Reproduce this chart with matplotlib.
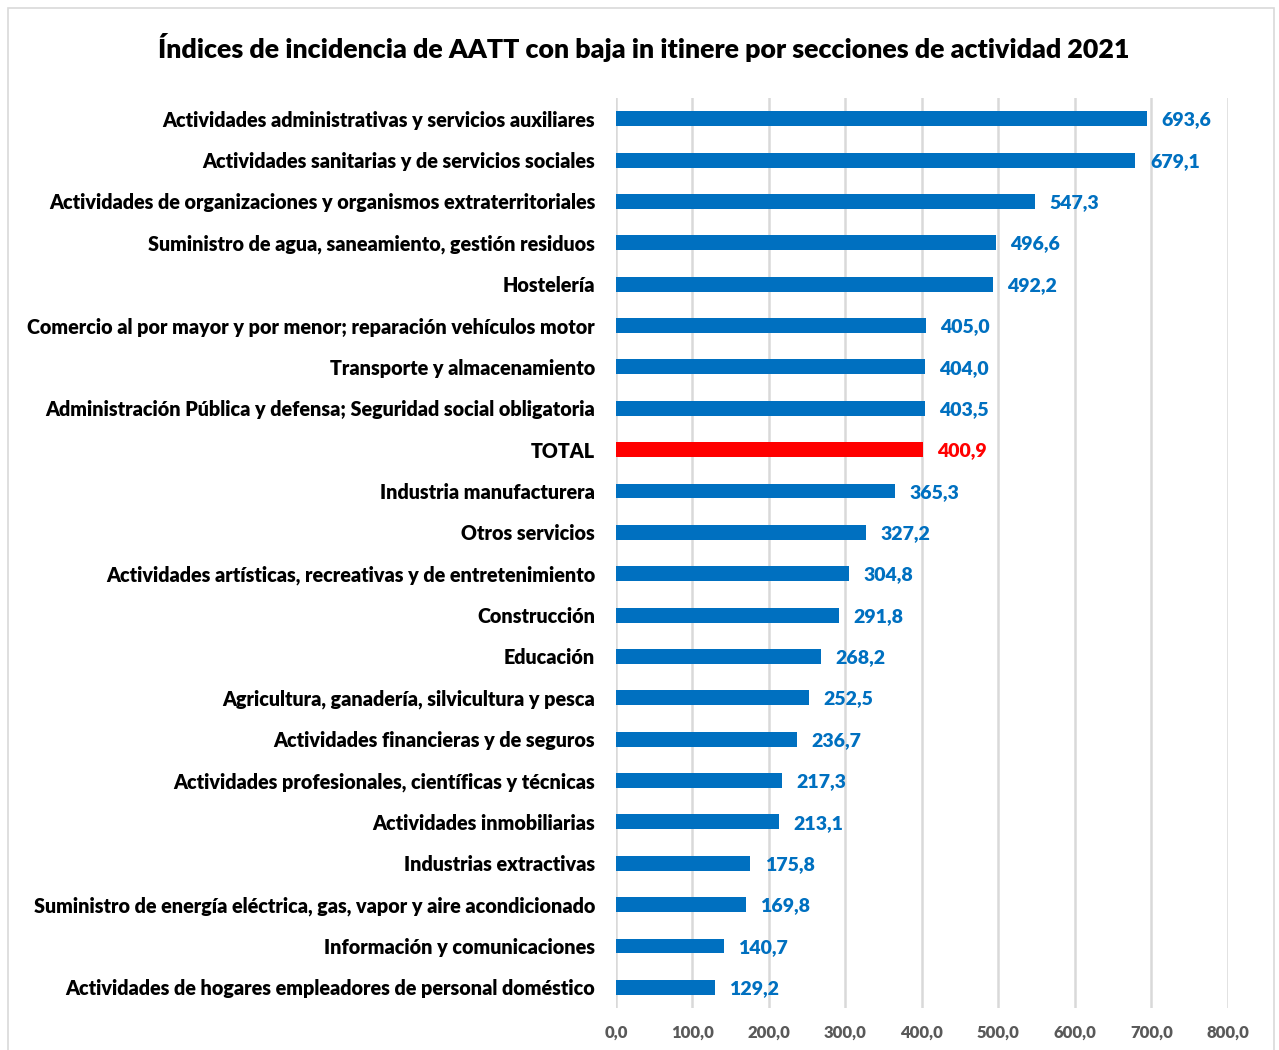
import matplotlib.pyplot as plt
from matplotlib.patches import Rectangle

plt.rcParams['font.family'] = ['Lato', 'DejaVu Sans']

sectores = [
    "Actividades administrativas y servicios auxiliares",
    "Actividades sanitarias y de servicios sociales",
    "Actividades de organizaciones y organismos extraterritoriales",
    "Suministro de agua, saneamiento, gestión residuos",
    "Hostelería",
    "Comercio al por mayor y por menor; reparación vehículos motor",
    "Transporte y almacenamiento",
    "Administración Pública y defensa; Seguridad social obligatoria",
    "TOTAL",
    "Industria manufacturera",
    "Otros servicios",
    "Actividades artísticas, recreativas y de entretenimiento",
    "Construcción",
    "Educación",
    "Agricultura, ganadería, silvicultura y pesca",
    "Actividades financieras y de seguros",
    "Actividades profesionales, científicas y técnicas",
    "Actividades inmobiliarias",
    "Industrias extractivas",
    "Suministro de energía eléctrica, gas, vapor y aire acondicionado",
    "Información y comunicaciones",
    "Actividades de hogares empleadores de personal doméstico",
]
indices = [693.6, 679.1, 547.3, 496.6, 492.2, 405.0, 404.0, 403.5, 400.9,
           365.3, 327.2, 304.8, 291.8, 268.2, 252.5, 236.7, 217.3, 213.1,
           175.8, 169.8, 140.7, 129.2]
xticks = [0, 100, 200, 300, 400, 500, 600, 700, 800]

azul = '#0070C0'
rojo = '#FF0000'
colores = [rojo if s == "TOTAL" else azul for s in sectores]

fig = plt.figure(figsize=(12.79, 10.5), dpi=100)
ax = fig.add_axes([0.4816, 0.040, 0.4785, 0.8666])

pos = list(range(len(sectores)))
ax.barh(pos, indices, height=0.36, color=colores, zorder=3)
for p, v, c in zip(pos, indices, colores):
    ax.text(v + 19, p + 0.03, f"{v:.1f}".replace('.', ','), va='center', ha='left',
            color=c, fontsize=14, fontweight='heavy')

ax.set_ylim(len(sectores) - 0.5, -0.5)
ax.set_xlim(0, 800)
ax.set_yticks(pos)
ax.set_yticklabels(sectores, fontsize=14.2, fontweight='heavy', color='black')
ax.set_xticks(xticks)
ax.set_xticklabels([f"{t:.1f}".replace('.', ',') for t in xticks],
                   fontsize=12, fontweight='heavy', color='#595959')
ax.tick_params(axis='y', length=0, pad=15)
ax.tick_params(axis='x', length=0, pad=12)
ax.grid(axis='x', color='#D9D9D9', linewidth=1.8, zorder=0)
for s in ax.spines.values():
    s.set_visible(False)

fig.text(0.503, 0.955, "Índices de incidencia de AATT con baja in itinere por secciones de actividad 2021",
         ha='center', va='center', fontsize=19.3, fontweight='heavy')

fig.patches.append(Rectangle((0.006, -0.01), 0.99, 1.002, transform=fig.transFigure,
                             fill=False, edgecolor='#D9D9D9', linewidth=1.2))

fig.savefig('out.png', dpi=100)
